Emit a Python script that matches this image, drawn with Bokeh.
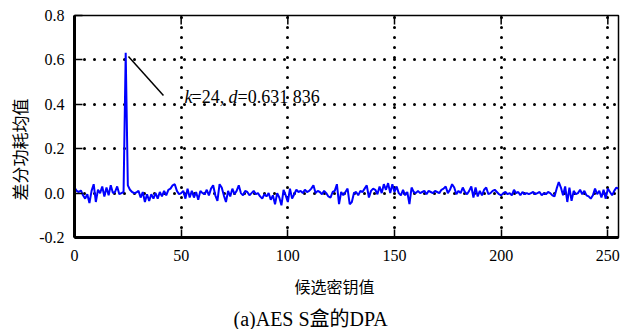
from bokeh.plotting import figure
from bokeh.models import Label, FixedTicker, PrintfTickFormatter, Range1d, Title
from bokeh.embed import file_html
from bokeh.resources import INLINE

# ---- data ----
keys = list(range(256))
dpa = [
    0.025, 0.01, 0.005, 0.012, -0.01, -0.025, -0.005, -0.045, 0.01, 0.04,
    -0.04, 0.015, 0.0, 0.03, -0.015, 0.025, -0.01, 0.035, 0.0, 0.005,
    0.03, -0.005, 0.0, 0.005, 0.631836, 0.035, 0.015, 0.005, 0.0, 0.003,
    0.01, -0.02, 0.005, -0.04, -0.005, -0.035, -0.005, -0.025, 0.0, -0.025,
    0.005, -0.015, 0.01, -0.01, 0.015, 0.02, 0.035, 0.04, 0.01, -0.005,
    0.0, 0.01, -0.025, 0.02, -0.02, 0.01, -0.02, 0.005, -0.03, 0.01,
    0.0, -0.005, 0.015, -0.01, 0.02, 0.035, -0.01, -0.035, 0.04, 0.025,
    -0.01, -0.04, 0.01, -0.015, 0.02, -0.005, 0.01, 0.035, 0.0, -0.01,
    0.01, 0.005, -0.01, 0.0, 0.01, -0.005, 0.0, -0.015, -0.025, -0.005,
    -0.015, 0.0, -0.03, -0.01, -0.05, 0.0, -0.02, -0.055, 0.015, -0.01,
    -0.04, 0.02, -0.025, -0.005, 0.015, 0.005, 0.01, 0.0, 0.015, 0.005,
    0.01, 0.02, 0.035, 0.0, 0.01, 0.005, -0.005, 0.01, 0.0, -0.015,
    -0.02, 0.005, 0.01, 0.04, -0.05, 0.005, -0.01, 0.005, 0.02, -0.05,
    -0.04, 0.0, 0.005, -0.01, 0.01, 0.005, 0.02, 0.035, -0.02, 0.01,
    0.02, 0.015, -0.005, 0.03, 0.0, 0.04, 0.015, 0.045, 0.0, 0.04,
    0.005, 0.03, 0.0, -0.01, 0.015, -0.01, 0.005, -0.05, 0.025, 0.005,
    0.0, 0.01, 0.0, 0.005, 0.01, -0.005, 0.01, 0.005, 0.0, 0.01,
    0.005, 0.0, 0.015, 0.02, 0.03, 0.0, 0.015, 0.04, 0.025, -0.005,
    0.01, 0.0, 0.025, 0.005, -0.005, 0.01, 0.03, -0.02, 0.025, -0.015,
    0.01, -0.01, 0.015, 0.025, -0.005, 0.0, 0.01, 0.015, 0.005, -0.005,
    -0.01, 0.0, 0.005, -0.005, 0.0, -0.01, 0.015, 0.0, 0.005, -0.01,
    0.005, -0.005, 0.0, -0.005, 0.0, 0.005, -0.005, 0.0, 0.005, -0.01,
    0.0, -0.005, 0.005, 0.0, -0.01, -0.015, 0.02, 0.05, 0.025, -0.01,
    0.03, -0.04, 0.025, -0.035, 0.01, -0.005, 0.0, 0.015, -0.005, 0.01,
    -0.01, -0.015, -0.025, -0.01, 0.02, -0.005, 0.01, -0.02, 0.015, -0.025,
    0.02, 0.005, -0.01, 0.01, 0.025, 0.02,
]
x_ticks = [0, 50, 100, 150, 200, 250]
y_ticks = [-0.2, 0.0, 0.2, 0.4, 0.6, 0.8]
peak_k = 24
peak_d = 0.631836
x_title = "候选密钥值"
y_title = "差分功耗均值"
caption = "(a)AES S盒的DPA"

SERIF = "'Liberation Serif', 'Times New Roman', serif"
CJK = "'Noto Sans CJK SC', sans-serif"
CAP_FONT = "'Liberation Serif', 'Noto Sans CJK SC', serif"

p = figure(width=623, height=329, x_range=Range1d(0, 255), y_range=Range1d(-0.2, 0.8),
           output_backend="svg", toolbar_location=None,
           min_border_left=74, min_border_right=5, min_border_top=15, min_border_bottom=92)
p.background_fill_color = "white"
p.border_fill_color = "white"
p.outline_line_color = "black"
p.outline_line_width = 1.5

for ax, ticks in ((p.xaxis[0], x_ticks), (p.yaxis[0], y_ticks)):
    ax.ticker = FixedTicker(ticks=ticks)
    ax.axis_line_width = 3
    ax.axis_line_color = "black"
    ax.major_tick_in = 8
    ax.major_tick_out = 0
    ax.major_tick_line_width = 1.5
    ax.minor_tick_line_color = None
    ax.major_label_text_font = SERIF
    ax.major_label_text_font_size = "16px"
    ax.major_label_text_color = "black"
p.xaxis[0].major_label_standoff = 12
p.yaxis[0].major_label_standoff = 10
p.yaxis[0].formatter = PrintfTickFormatter(format="%.1f")

for g, ticks in ((p.xgrid[0], x_ticks), (p.ygrid[0], y_ticks)):
    g.ticker = FixedTicker(ticks=ticks)
    g.grid_line_color = "black"
    g.grid_line_width = 3
    g.grid_line_dash = "0 10"
    g.grid_line_cap = "round"

# inward ticks on the top border
top_len = 0.04
p.segment(x0=x_ticks, y0=[y_ticks[-1]] * len(x_ticks), x1=x_ticks,
          y1=[y_ticks[-1] - top_len] * len(x_ticks), line_color="black", line_width=1.5)

p.line(keys, dpa, line_color="#0000ff", line_width=2)

# pointer and annotation
p.segment(x0=[peak_k + 1.3], y0=[peak_d - 0.017], x1=[peak_k + 17.7], y1=[peak_d - 0.192],
          line_color="black", line_width=1.5)
ax0 = peak_k + 27.6
ay0 = peak_d - 0.197
parts = [("k", "italic", 0), ("=24, ", "normal", 7), ("d", "italic", 44), ("=0.631 836", "normal", 53)]
for txt, style, off in parts:
    p.add_layout(Label(x=ax0, y=ay0, x_offset=off, text=txt, text_font=SERIF,
                       text_font_style=style, text_font_size="18px", text_color="black",
                       text_baseline="alphabetic", text_align="left"))

p.add_layout(Title(text=x_title, text_font=CJK, text_font_size="16px", text_font_style="normal",
                   align="left", offset=220, standoff=16, text_color="black"), "below")
p.add_layout(Title(text=caption, text_font=CAP_FONT, text_font_size="20px", text_font_style="normal",
                   align="left", offset=159, standoff=0, text_color="black"), "below")
p.add_layout(Title(text=y_title, text_font=CJK, text_font_size="17px", text_font_style="normal",
                   align="left", offset=37, standoff=9, text_color="black"), "left")

open("out.html", "w").write(file_html(p, INLINE))
